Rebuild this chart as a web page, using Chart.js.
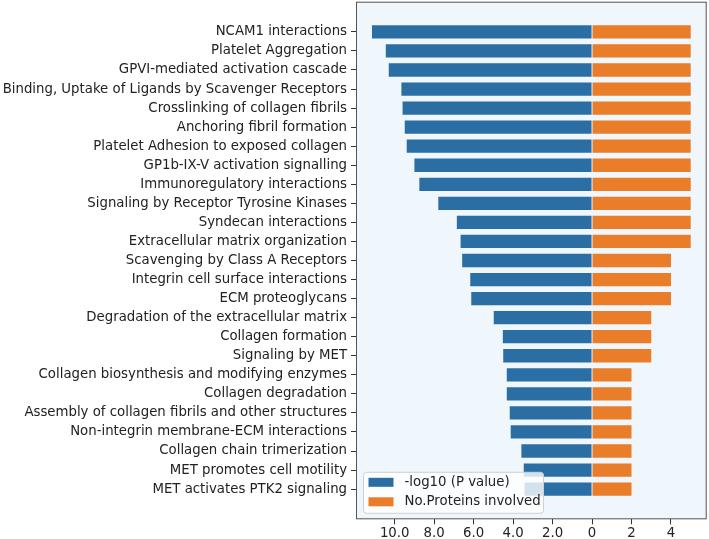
<!DOCTYPE html>
<html>
<head>
<meta charset="utf-8">
<script src="https://cdn.jsdelivr.net/npm/chart.js@4/dist/chart.umd.min.js"></script>
<style>
  body { margin: 0; background: #fff; }
  canvas { display: block; }
</style>
</head>
<body>
<canvas id="pathwayChart" width="709" height="539"></canvas>
<script>
const pathways = [
  "NCAM1 interactions",
  "Platelet Aggregation",
  "GPVI-mediated activation cascade",
  "Binding, Uptake of Ligands by Scavenger Receptors",
  "Crosslinking of collagen fibrils",
  "Anchoring fibril formation",
  "Platelet Adhesion to exposed collagen",
  "GP1b-IX-V activation signalling",
  "Immunoregulatory interactions",
  "Signaling by Receptor Tyrosine Kinases",
  "Syndecan interactions",
  "Extracellular matrix organization",
  "Scavenging by Class A Receptors",
  "Integrin cell surface interactions",
  "ECM proteoglycans",
  "Degradation of the extracellular matrix",
  "Collagen formation",
  "Signaling by MET",
  "Collagen biosynthesis and modifying enzymes",
  "Collagen degradation",
  "Assembly of collagen fibrils and other structures",
  "Non-integrin membrane-ECM interactions",
  "Collagen chain trimerization",
  "MET promotes cell motility",
  "MET activates PTK2 signaling"
];

const logP = [11.15, 10.45, 10.3, 9.66, 9.6, 9.49, 9.39, 9.0, 8.75, 7.79,
  6.85, 6.66, 6.58, 6.17, 6.12, 4.98, 4.52, 4.5, 4.32, 4.32,
  4.17, 4.12, 3.58, 3.46, 3.42];

const proteins = [5, 5, 5, 5, 5, 5, 5, 5, 5, 5, 5, 5, 4, 4, 4, 3, 3, 3, 2, 2, 2, 2, 2, 2, 2];

const xTickValues = [-10, -8, -6, -4, -2, 0, 2, 4];
const xTickLabels = ["10.0", "8.0", "6.0", "4.0", "2.0", "0", "2", "4"];

const legendLabels = ["-log10 (P value)", "No.Proteins involved"];
const blue = "#2a6ea4";
const orange = "#e97d2a";

const FONT = "DejaVu Sans";
const FS = 13.3;

// plot background, frame and the in-plot legend
const framePlugin = {
  id: "frame",
  beforeDraw(chart) {
    const a = chart.chartArea;
    const ctx = chart.ctx;
    ctx.save();
    ctx.fillStyle = "#eff6fc";
    ctx.fillRect(a.left, a.top, a.right - a.left, a.bottom - a.top);
    ctx.restore();
  },
  afterDatasetsDraw(chart) {
    const a = chart.chartArea;
    const ctx = chart.ctx;
    ctx.save();
    ctx.strokeStyle = "#555";
    ctx.lineWidth = 1;
    ctx.strokeRect(a.left + 0.5, a.top + 0.5, a.right - a.left - 1, a.bottom - a.top - 1);

    // legend box, lower left
    const lx = a.left + 7.5, ly = a.bottom - 47, lw = 180, lh = 41, r = 3;
    ctx.beginPath();
    ctx.moveTo(lx + r, ly);
    ctx.arcTo(lx + lw, ly, lx + lw, ly + lh, r);
    ctx.arcTo(lx + lw, ly + lh, lx, ly + lh, r);
    ctx.arcTo(lx, ly + lh, lx, ly, r);
    ctx.arcTo(lx, ly, lx + lw, ly, r);
    ctx.closePath();
    ctx.fillStyle = "rgba(255,255,255,0.8)";
    ctx.fill();
    ctx.strokeStyle = "#d0d0d0";
    ctx.stroke();

    ctx.font = FS + "px '" + FONT + "'";
    ctx.textBaseline = "middle";
    ctx.textAlign = "left";
    const colors = [blue, orange];
    legendLabels.forEach((txt, i) => {
      const cy = ly + 10 + i * 19.5;
      ctx.fillStyle = colors[i];
      ctx.fillRect(lx + 5, cy - 4.5, 25, 9);
      ctx.fillStyle = "#222";
      ctx.fillText(txt, lx + 41, cy);
    });
    ctx.restore();
  }
};

const ctx = document.getElementById("pathwayChart");

new Chart(ctx, {
  type: "bar",
  data: {
    datasets: [
      {
        label: legendLabels[0],
        data: logP.map((v, i) => ({ x: -v, y: i })),
        backgroundColor: blue,
        borderWidth: 0
      },
      {
        label: legendLabels[1],
        data: proteins.map((v, i) => ({ x: v, y: i })),
        backgroundColor: orange,
        borderWidth: 0
      }
    ]
  },
  options: {
    indexAxis: "y",
    responsive: false,
    animation: false,
    categoryPercentage: 0.7,
    barPercentage: 1.0,
    layout: { padding: { top: 1.7, right: 2.3, bottom: 0, left: 0 } },
    plugins: {
      legend: { display: false },
      tooltip: { enabled: false }
    },
    scales: {
      x: {
        type: "linear",
        stacked: true,
        min: -11.96,
        max: 5.81,
        afterBuildTicks: (scale) => {
          scale.ticks = xTickValues.map((v) => ({ value: v }));
        },
        afterFit: (scale) => {
          scale.height = 19.7;
          scale.paddingLeft = 0;
          scale.paddingRight = 0;
        },
        border: { display: false },
        grid: { offset: false, drawOnChartArea: false, drawTicks: true, tickLength: 5, tickColor: "#333", tickWidth: 1 },
        ticks: {
          autoSkip: false,
          maxRotation: 0,
          padding: 1,
          color: "#222",
          font: { family: FONT, size: FS },
          callback: (value, i) => xTickLabels[i]
        }
      },
      y: {
        type: "linear",
        stacked: true,
        reverse: true,
        offset: false,
        min: -1.585,
        max: 25.585,
        afterBuildTicks: (scale) => {
          scale.ticks = pathways.map((_, i) => ({ value: i }));
        },
        afterFit: (scale) => {
          scale.width = 356;
          scale.paddingTop = 0;
          scale.paddingBottom = 0;
        },
        border: { display: false },
        grid: { offset: false, drawOnChartArea: false, drawTicks: true, tickLength: 5, tickColor: "#333", tickWidth: 1 },
        ticks: {
          autoSkip: false,
          padding: 4,
          color: "#222",
          font: { family: FONT, size: FS },
          callback: (value) => pathways[value]
        }
      }
    }
  },
  plugins: [framePlugin]
});
</script>
</body>
</html>
